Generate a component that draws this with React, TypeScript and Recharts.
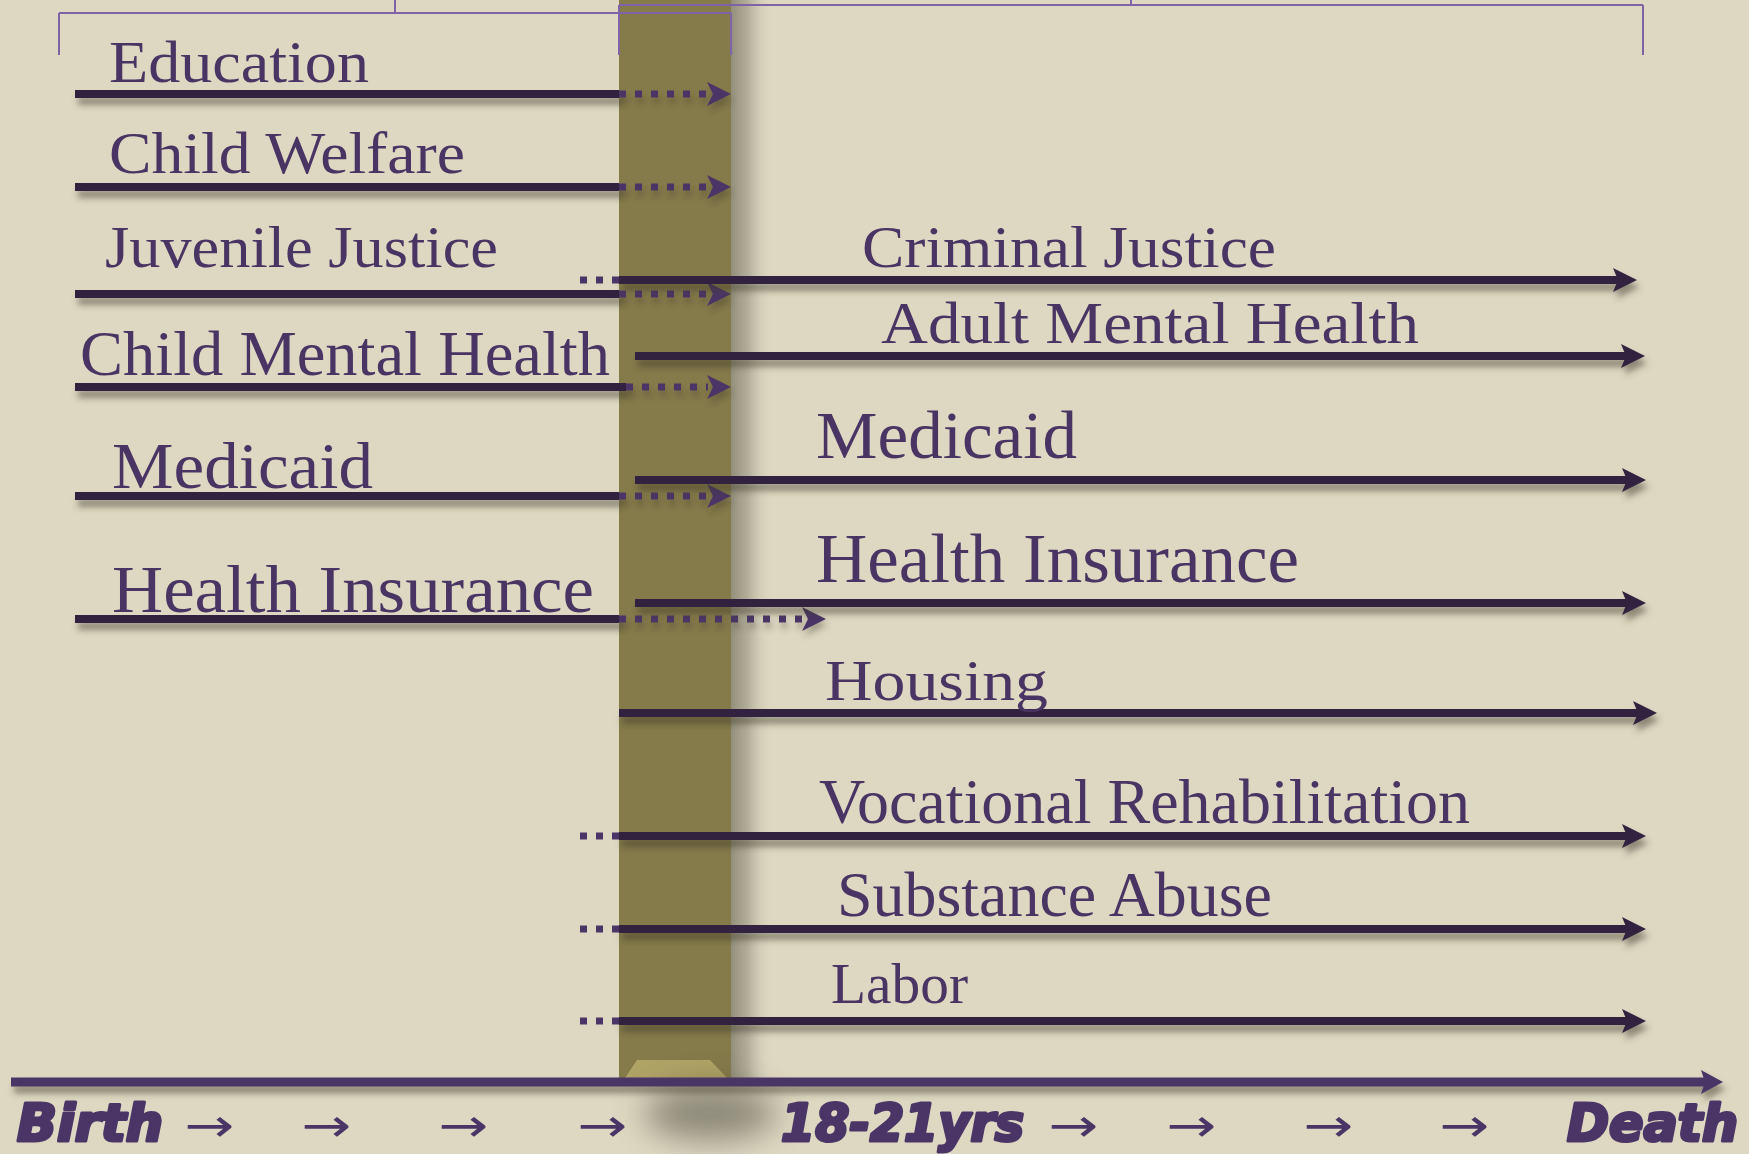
import React from 'react';
import { ComposedChart, XAxis, YAxis, ReferenceArea, ReferenceLine, ReferenceDot } from 'recharts';

const W = 1749;
const H = 1154;

// ---------------- data ----------------
// Child-serving systems: line from birth to the transition, then a dotted fade-out arrow
const childSystems = ['Education', 'Child Welfare', 'Juvenile Justice', 'Child Mental Health', 'Medicaid', 'Health Insurance'];
const childRow = [94, 187, 294, 387, 496, 619];
const childStart = [75, 75, 75, 75, 75, 75];
const childSolidEnd = [619, 619, 619, 626, 619, 619];
const childArrowEnd = [731, 731, 731, 731, 731, 826];

// Adult-serving systems: from the transition to death
const adultSystems = ['Criminal Justice', 'Adult Mental Health', 'Medicaid', 'Health Insurance', 'Housing', 'Vocational Rehabilitation', 'Substance Abuse', 'Labor'];
const adultRow = [280, 356, 480, 603, 713, 836, 929, 1021];
const adultStart = [619, 635, 635, 635, 619, 619, 619, 619];
const adultEnd = [1637, 1645, 1646, 1646, 1657, 1646, 1646, 1646];
const adultLeadIn = [true, false, false, false, false, true, true, true];
const leadInStart = 580;

// Timeline (bottom) labels
const timelineTicks = ['Birth', '→', '→', '→', '→', '18-21yrs', '→', '→', '→', '→', 'Death'];
const timelineTickAt = [17, 184, 301, 438, 577, 781, 1048, 1166, 1303, 1439, 1567];
const timelineRow = 1141;
const timelineStart = 11;
const timelineEnd = 1723;
const timelineY = 1082;

// Transition band (18-21 yrs)
const transitionFrom = 619;
const transitionTo = 731;

// frame of the drawing
const frame = [{ x: 0, y: 0 }, { x: W, y: H }];

// ---------------- layout / styles ----------------
const childLabelLayout = [
  { x: 109, y: 82, size: 60, w: 260 },
  { x: 109, y: 173, size: 60, w: 356 },
  { x: 105, y: 267, size: 60, w: 393 },
  { x: 80, y: 375, size: 63, w: 530 },
  { x: 112, y: 488, size: 66, w: 261 },
  { x: 112, y: 612, size: 68, w: 482 },
];
const adultLabelLayout = [
  { x: 862, y: 267, size: 60, w: 414 },
  { x: 881, y: 343, size: 60, w: 538 },
  { x: 816, y: 458, size: 68, w: 261 },
  { x: 816, y: 582, size: 69, w: 483 },
  { x: 825, y: 700, size: 57, w: 223 },
  { x: 819, y: 823, size: 63, w: 651 },
  { x: 837, y: 916, size: 63, w: 435 },
  { x: 831, y: 1003, size: 56, w: 137 },
];
const timelineWidths: Record<string, number> = { Birth: 146, '18-21yrs': 243, Death: 171, '→': 50 };
const brackets = [
  { from: 59, to: 731, mid: 395, top: 13, bottom: 55 },
  { from: 619, to: 1643, mid: 1131, top: 5, bottom: 55 },
];

const BG = '#DED8C2';
const INK = '#30213F';
const DOT = '#4B3566';
const TEXT = '#4A3463';
const AXIS = '#4A3566';
const BAND = '#857A4A';
const BRACKET = '#8062A8';
const SERIF = '"Liberation Serif", "Times New Roman", serif';
const HEAVY = '"DejaVu Sans Condensed", "DejaVu Sans", sans-serif';

function arrowHead(x: number, y: number, len: number, h: number, notch: number) {
  return `${x},${y} ${x - len},${y - h} ${x - len + notch},${y} ${x - len},${y + h}`;
}

const solidShape = (p: any) => (
  <line x1={p.x1} y1={p.y1} x2={p.x2} y2={p.y2} stroke={INK} strokeWidth={8} filter="url(#drop)" />
);

const solidArrowShape = (p: any) => (
  <g filter="url(#drop)">
    <line x1={p.x1} y1={p.y1} x2={p.x2 - 18} y2={p.y2} stroke={INK} strokeWidth={8} />
    <polygon points={arrowHead(p.x2, p.y2, 24, 12, 5)} fill={INK} />
  </g>
);

const dottedArrowShape = (p: any) => (
  <g filter="url(#dropSoft)">
    <line x1={p.x1} y1={p.y1} x2={p.x2 - 23} y2={p.y2} stroke={DOT} strokeWidth={7} strokeDasharray="7 9" />
    <polygon points={arrowHead(p.x2, p.y2, 24, 12, 6)} fill={DOT} />
  </g>
);

const leadInShape = (p: any) => (
  <line x1={p.x1} y1={p.y1} x2={p.x2} y2={p.y2} stroke={DOT} strokeWidth={7} strokeDasharray="7 9" />
);

const axisShape = (p: any) => (
  <g filter="url(#drop)">
    <line x1={p.x1} y1={p.y1} x2={p.x2 - 16} y2={p.y2} stroke={AXIS} strokeWidth={9} />
    <polygon points={arrowHead(p.x2, p.y2, 22, 12, 4)} fill={AXIS} />
  </g>
);

const labelShape = (text: string, size: number, width: number) => (p: any) => (
  <text
    x={p.cx}
    y={p.cy}
    fontFamily={SERIF}
    fontSize={size}
    fill={TEXT}
    textLength={width}
    lengthAdjust="spacingAndGlyphs"
  >
    {text}
  </text>
);

const timelineShape = (text: string) => (p: any) => {
  const isArrow = text === '→';
  return (
    <text
      x={p.cx}
      y={p.cy}
      fontFamily={HEAVY}
      fontSize={isArrow ? 46 : 51}
      fontWeight={isArrow ? 400 : 700}
      fontStyle="italic"
      fill={AXIS}
      stroke={isArrow ? 'none' : AXIS}
      strokeWidth={isArrow ? 0 : 3}
      strokeLinejoin="round"
      textLength={timelineWidths[text]}
      lengthAdjust="spacingAndGlyphs"
    >
      {text}
    </text>
  );
};

const bandShadowShape = (p: any) => (
  <rect x={p.x} y={p.y} width={p.width} height={p.height} fill="url(#bandShade)" />
);

const baseShadowShape = (p: any) => (
  <ellipse
    cx={p.x + p.width / 2}
    cy={p.y + p.height / 2}
    rx={p.width / 2}
    ry={p.height / 2}
    fill="#4A463A"
    opacity={0.55}
    filter="url(#blur)"
  />
);

const bandFootShape = (p: any) => (
  <polygon
    points={`${p.x + 18},${p.y} ${p.x + p.width - 21},${p.y} ${p.x + p.width - 4},${p.y + p.height} ${p.x + 6},${p.y + p.height}`}
    fill="#B0A366"
  />
);

export default function App() {
  return (
    <div style={{ position: 'absolute', left: 0, top: 0, width: W, height: H, background: BG, overflow: 'hidden' }}>
      <ComposedChart width={W} height={H} margin={{ top: 0, right: 0, bottom: 0, left: 0 }} data={frame}>
        <defs>
          <filter id="drop" filterUnits="userSpaceOnUse" x="0" y="0" width={W} height={H}>
            <feDropShadow dx="3" dy="7" stdDeviation="3" floodColor="#3B3628" floodOpacity="0.5" />
          </filter>
          <filter id="dropSoft" filterUnits="userSpaceOnUse" x="0" y="0" width={W} height={H}>
            <feDropShadow dx="2" dy="6" stdDeviation="3" floodColor="#3B3628" floodOpacity="0.35" />
          </filter>
          <filter id="blur" filterUnits="userSpaceOnUse" x="0" y="0" width={W} height={H}>
            <feGaussianBlur stdDeviation="16" />
          </filter>
          <linearGradient id="bandShade" x1="0" y1="0" x2="1" y2="0">
            <stop offset="0" stopColor="#948F7B" stopOpacity="1" />
            <stop offset="0.4" stopColor="#AAA692" stopOpacity="0.85" />
            <stop offset="1" stopColor={BG} stopOpacity="0" />
          </linearGradient>
        </defs>
        <XAxis type="number" dataKey="x" domain={[0, W]} hide allowDataOverflow />
        <YAxis type="number" dataKey="y" domain={[0, H]} reversed hide allowDataOverflow />

        {/* transition band */}
        <ReferenceArea x1={transitionFrom} x2={transitionTo} y1={0} y2={timelineY - 4} fill={BAND} fillOpacity={1} stroke="none" />
        <ReferenceArea x1={transitionTo} x2={transitionTo + 42} y1={0} y2={timelineY - 4} shape={bandShadowShape} />
        <ReferenceArea x1={transitionFrom} x2={transitionTo} y1={timelineY - 22} y2={timelineY - 4} shape={bandFootShape} />
        <ReferenceArea x1={transitionFrom + 25} x2={transitionTo + 45} y1={timelineY + 4} y2={timelineY + 58} shape={baseShadowShape} />

        {/* brackets */}
        {brackets.map((b, i) => (
          <ReferenceLine key={`bh${i}`} segment={[{ x: b.from, y: b.top }, { x: b.to, y: b.top }]} stroke={BRACKET} strokeWidth={2} />
        ))}
        {brackets.map((b, i) => (
          <ReferenceLine key={`bl${i}`} segment={[{ x: b.from, y: b.top }, { x: b.from, y: b.bottom }]} stroke={BRACKET} strokeWidth={2} />
        ))}
        {brackets.map((b, i) => (
          <ReferenceLine key={`br${i}`} segment={[{ x: b.to, y: b.top }, { x: b.to, y: b.bottom }]} stroke={BRACKET} strokeWidth={2} />
        ))}
        {brackets.map((b, i) => (
          <ReferenceLine key={`bm${i}`} segment={[{ x: b.mid, y: 0 }, { x: b.mid, y: b.top }]} stroke={BRACKET} strokeWidth={2} />
        ))}

        {/* child systems */}
        {childSystems.map((name, i) => (
          <ReferenceLine
            key={`cs${i}`}
            segment={[{ x: childStart[i], y: childRow[i] }, { x: childSolidEnd[i], y: childRow[i] }]}
            shape={solidShape}
          />
        ))}
        {childSystems.map((name, i) => (
          <ReferenceLine
            key={`cd${i}`}
            segment={[{ x: childSolidEnd[i], y: childRow[i] }, { x: childArrowEnd[i], y: childRow[i] }]}
            shape={dottedArrowShape}
          />
        ))}

        {/* adult systems */}
        {adultSystems.map((name, i) =>
          adultLeadIn[i] ? (
            <ReferenceLine
              key={`al${i}`}
              segment={[{ x: leadInStart, y: adultRow[i] }, { x: adultStart[i], y: adultRow[i] }]}
              shape={leadInShape}
            />
          ) : null
        )}
        {adultSystems.map((name, i) => (
          <ReferenceLine
            key={`as${i}`}
            segment={[{ x: adultStart[i], y: adultRow[i] }, { x: adultEnd[i], y: adultRow[i] }]}
            shape={solidArrowShape}
          />
        ))}

        {/* main timeline */}
        <ReferenceLine segment={[{ x: timelineStart, y: timelineY }, { x: timelineEnd, y: timelineY }]} shape={axisShape} />

        {/* labels */}
        {childSystems.map((name, i) => (
          <ReferenceDot
            key={`ct${i}`}
            x={childLabelLayout[i].x}
            y={childLabelLayout[i].y}
            r={0}
            shape={labelShape(name, childLabelLayout[i].size, childLabelLayout[i].w)}
          />
        ))}
        {adultSystems.map((name, i) => (
          <ReferenceDot
            key={`at${i}`}
            x={adultLabelLayout[i].x}
            y={adultLabelLayout[i].y}
            r={0}
            shape={labelShape(name, adultLabelLayout[i].size, adultLabelLayout[i].w)}
          />
        ))}
        {timelineTicks.map((t, i) => (
          <ReferenceDot key={`tt${i}`} x={timelineTickAt[i]} y={timelineRow} r={0} shape={timelineShape(t)} />
        ))}
      </ComposedChart>
    </div>
  );
}
